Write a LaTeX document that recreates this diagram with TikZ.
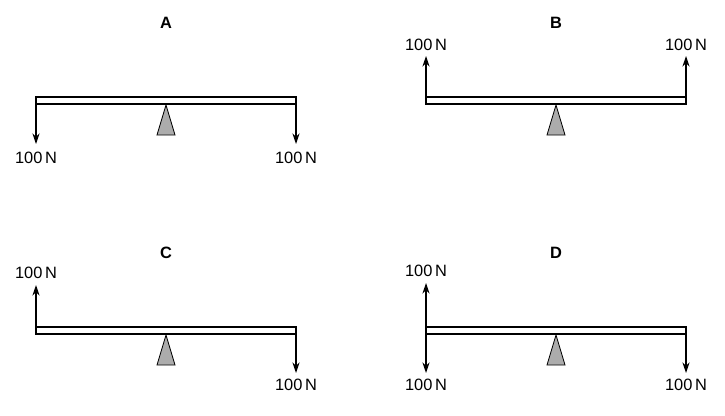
\documentclass[tikz,border=0pt]{standalone}
\usepackage{fontspec}
\setmainfont{Liberation Sans}
\usetikzlibrary{positioning, arrows.meta}

\newcommand{\lever}[4]{%
  % beam, fulcrum and title of one panel
  \draw[beam] (#2,#3) rectangle ++(260,7);
  \coordinate (#1tl) at (#2,#3);
  \coordinate (#1tr) at (#2+260,#3);
  \coordinate (#1bl) at (#2,#3+7);
  \coordinate (#1br) at (#2+260,#3+7);
  \draw[pivot] (#2+130,#3+8) -- (#2+139,#3+38) -- (#2+121,#3+38) -- cycle;
  \node[title] (#1t) at (#2+130,#3-74) {#4};
}

\begin{document}
\begin{tikzpicture}[x=0.03cm, y=-0.03cm,
    beam/.style={line width=0.9pt, fill=white},
    pivot/.style={line width=0.7pt, fill=gray!65},
    force/.style={line width=0.9pt, -{Stealth[length=9pt, width=6pt]}},
    lab/.style={font=\fontsize{14}{16}\selectfont, inner sep=0pt},
    title/.style={font=\bfseries\fontsize{14}{16}\selectfont, inner sep=0pt}
]
\useasboundingbox (0,0) rectangle (725,415);

% --- A ---
\lever{a}{36}{97}{A}
\node[lab] (aL) at (36,158) {100\,N};
\node[lab] (aR) at (296,158) {100\,N};
\coordinate (aLe) at (36,144);
\coordinate (aRe) at (296,144);
\draw[force] (abl) -- (aLe);
\draw[force] (abr) -- (aRe);

% --- B ---
\lever{b}{426}{97}{B}
\node[lab] (bL) at (426,45) {100\,N};
\node[lab] (bR) at (686,45) {100\,N};
\coordinate (bLe) at (426,56);
\coordinate (bRe) at (686,56);
\draw[force] (btl) -- (bLe);
\draw[force] (btr) -- (bRe);

% --- C ---
\lever{c}{36}{327}{C}
\node[lab] (cL) at (36,273) {100\,N};
\node[lab] (cR) at (296,385) {100\,N};
\coordinate (cLe) at (36,285);
\coordinate (cRe) at (296,373);
\draw[force] (ctl) -- (cLe);
\draw[force] (cbr) -- (cRe);

% --- D ---
\lever{d}{426}{327}{D}
\node[lab] (dU) at (426,271) {100\,N};
\node[lab] (dL) at (426,385) {100\,N};
\node[lab] (dR) at (686,385) {100\,N};
\coordinate (dUe) at (426,283);
\coordinate (dLe) at (426,373);
\coordinate (dRe) at (686,373);
\draw[force] (dtl) -- (dUe);
\draw[force] (dbl) -- (dLe);
\draw[force] (dbr) -- (dRe);
\end{tikzpicture}
\end{document}
